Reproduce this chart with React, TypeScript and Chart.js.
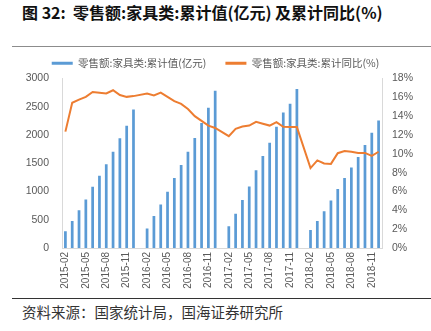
import React, { useEffect, useRef } from 'react';
import { Chart, registerables } from 'chart.js';

Chart.register(...registerables);

const months: string[] = [
  '2015-02', '2015-03', '2015-04', '2015-05', '2015-06', '2015-07', '2015-08', '2015-09', '2015-10', '2015-11', '2015-12',
  '2016-01', '2016-02', '2016-03', '2016-04', '2016-05', '2016-06', '2016-07', '2016-08', '2016-09', '2016-10', '2016-11', '2016-12',
  '2017-01', '2017-02', '2017-03', '2017-04', '2017-05', '2017-06', '2017-07', '2017-08', '2017-09', '2017-10', '2017-11', '2017-12',
  '2018-01', '2018-02', '2018-03', '2018-04', '2018-05', '2018-06', '2018-07', '2018-08', '2018-09', '2018-10', '2018-11', '2018-12',
];

// 零售额:家具类:累计值(亿元)
const cumulativeValue: (number | null)[] = [
  295, 479, 670, 860, 1082, 1278, 1481, 1702, 1942, 2163, 2452,
  null, 344, 565, 768, 996, 1241, 1469, 1702, 1948, 2213, 2483, 2784,
  null, 387, 608, 848, 1088, 1377, 1629, 1862, 2145, 2397, 2551, 2815,
  null, 320, 479, 651, 842, 1045, 1241, 1426, 1610, 1825, 2041, 2256,
];

// 零售额:家具类:累计同比(%)
const cumulativeYoY: (number | null)[] = [
  12.36, 15.42, 15.76, 16.05, 16.57, 16.49, 16.42, 16.75, 16.24, 16.05, 16.13,
  null, 16.4, 16.2, 16.5, 16.05, 15.6, 15.3, 14.76, 14.0, 13.5, 13.0, 12.75,
  null, 11.88, 12.66, 12.9, 13.0, 13.4, 13.2, 13.0, 13.36, 12.88, 12.84, 12.84,
  null, 8.49, 9.3, 8.97, 8.93, 10.07, 10.3, 10.22, 10.1, 10.1, 9.78, 10.22,
];

const seriesNames = ['零售额:家具类:累计值(亿元)', '零售额:家具类:累计同比(%)'];
const titleText = '图 32:  零售额:家具类:累计值(亿元) 及累计同比(%)';
const sourceText = '资料来源：国家统计局，国海证券研究所';

const BLUE = '#5b9bd5';
const ORANGE = '#ed7d31';
const TICK = '#595959';
const AXIS = '#d9d9d9';

export default function App() {
  const ref = useRef<HTMLCanvasElement>(null);

  useEffect(() => {
    if (!ref.current) return;
    const chart = new Chart(ref.current, {
      type: 'bar',
      data: {
        labels: months,
        datasets: [
          {
            type: 'bar',
            label: seriesNames[0],
            data: cumulativeValue,
            backgroundColor: BLUE,
            borderWidth: 0,
            categoryPercentage: 1,
            barPercentage: 0.4,
            yAxisID: 'y',
            order: 2,
          },
          {
            type: 'line',
            label: seriesNames[1],
            data: cumulativeYoY,
            borderColor: ORANGE,
            backgroundColor: ORANGE,
            borderWidth: 2,
            pointRadius: 0,
            tension: 0,
            spanGaps: true,
            yAxisID: 'y1',
            order: 1,
          },
        ],
      } as any,
      options: {
        responsive: false,
        animation: false,
        layout: { padding: { top: 9, left: 0, right: 0, bottom: 0 } },
        plugins: {
          tooltip: { enabled: false },
          legend: {
            position: 'top',
            maxHeight: 47,
            labels: {
              boxWidth: 21,
              boxHeight: 3,
              padding: 19,
              color: TICK,
              font: { size: 10.5, family: '"Noto Sans CJK SC", sans-serif' },
              sort: (a: any, b: any) => a.datasetIndex - b.datasetIndex,
              generateLabels: (c: any) => {
                const items = Chart.defaults.plugins.legend.labels.generateLabels(c);
                return items.map((it: any) => ({ ...it, lineWidth: 0, strokeStyle: 'transparent' }));
              },
            },
          } as any,
        },
        scales: {
          x: {
            type: 'category',
            offset: true,
            grid: { display: false, drawTicks: false },
            border: { display: true, color: AXIS },
            ticks: {
              autoSkip: false,
              minRotation: 90,
              maxRotation: 90,
              padding: 4,
              color: TICK,
              font: { size: 10, family: '"Liberation Sans", Arial, sans-serif' },
              callback: function (this: any, v: any, i: number) {
                return i % 3 === 0 ? this.getLabelForValue(v) : '';
              },
            },
            afterFit: (s: any) => { s.height = 50; },
          },
          y: {
            position: 'left',
            min: 0,
            max: 3000,
            grid: { display: false, drawTicks: false },
            border: { display: true, color: AXIS },
            ticks: {
              stepSize: 500,
              padding: 13,
              color: TICK,
              font: { size: 10.5, family: '"Liberation Sans", Arial, sans-serif' },
              callback: (v: any) => String(v),
            },
            afterFit: (s: any) => { s.width = 62; },
          },
          y1: {
            position: 'right',
            min: 0,
            max: 18,
            grid: { display: false, drawTicks: false },
            border: { display: true, color: AXIS },
            ticks: {
              stepSize: 2,
              padding: 10,
              color: TICK,
              font: { size: 10.5, family: '"Liberation Sans", Arial, sans-serif' },
              callback: (v: any) => v + '%',
            },
            afterFit: (s: any) => { s.width = 49; },
          },
        },
      } as any,
    });
    return () => chart.destroy();
  }, []);

  return (
    <div style={{ position: 'absolute', left: 0, top: 0, width: 431, height: 331, background: '#fff', overflow: 'hidden' }}>
      <div style={{ position: 'absolute', left: 12, top: 46, width: 419, height: 1, background: '#8c8c8c' }} />
      <div style={{ position: 'absolute', left: 0, top: 30, width: 431, height: 268 }}>
        <canvas ref={ref} width={431} height={268} style={{ display: 'block' }} />
      </div>
      <div
        style={{
          position: 'absolute', left: 22, top: 0, lineHeight: '20px', whiteSpace: 'pre',
          font: 'bold 16px "Noto Sans CJK SC", sans-serif', color: '#111', zIndex: 2,
        }}
      >
        {titleText}
      </div>
      <div style={{ position: 'absolute', left: 12, top: 298, width: 419, height: 1, background: '#333' }} />
      <div
        style={{
          position: 'absolute', left: 22, top: 301, lineHeight: '20px', whiteSpace: 'pre',
          font: '14.5px "Noto Sans CJK SC", sans-serif', color: '#333',
        }}
      >
        {sourceText}
      </div>
    </div>
  );
}
